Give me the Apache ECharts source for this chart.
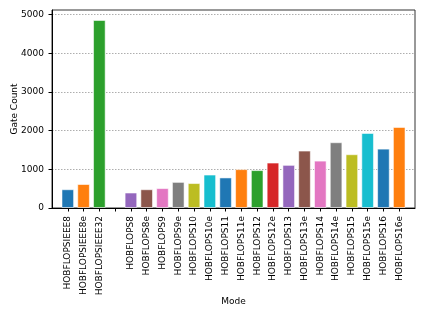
<!DOCTYPE html>
<html>
<head>
<meta charset="utf-8">
<script src="https://cdn.jsdelivr.net/npm/echarts@6/dist/echarts.min.js"></script>
<style>html,body{margin:0;padding:0;background:#fff}#c{width:425px;height:319px}</style>
</head>
<body>
<div id="c"></div>
<script>
const categories = ['HOBFLOPSIEEE8','HOBFLOPSIEEE8e','HOBFLOPSIEEE32','',
  'HOBFLOPS8','HOBFLOPS8e','HOBFLOPS9','HOBFLOPS9e','HOBFLOPS10','HOBFLOPS10e',
  'HOBFLOPS11','HOBFLOPS11e','HOBFLOPS12','HOBFLOPS12e','HOBFLOPS13','HOBFLOPS13e',
  'HOBFLOPS14','HOBFLOPS14e','HOBFLOPS15','HOBFLOPS15e','HOBFLOPS16','HOBFLOPS16e'];
const gateCounts = [485, 620, 4860, null,
  400, 485, 515, 675, 645, 865,
  790, 1005, 980, 1175, 1115, 1485,
  1225, 1700, 1390, 1940, 1535, 2095];
const yTicks = [0, 1000, 2000, 3000, 4000, 5000];
const palette = ['#1f77b4','#ff7f0e','#2ca02c','#d62728','#9467bd','#8c564b','#e377c2','#7f7f7f','#bcbd22','#17becf'];

// pad with empty edge categories so the plot has matplotlib-like margins
const xCats = ['<pad0>'].concat(categories, ['<pad1>']);
const xData = [null].concat(gateCounts, [null]).map((v, i) => ({
  value: v,
  itemStyle: { color: palette[(i - 1 + 10) % 10] }
}));

const chart = echarts.init(document.getElementById('c'), null, {renderer: 'canvas'});
const font = 'DejaVu Sans';
chart.setOption({
  animation: false,
  grid: { left: 52, right: 10, top: 10, bottom: 111, containLabel: false, outerBoundsMode: 'none',
    show: true, borderColor: '#333', borderWidth: 1, backgroundColor: 'transparent' },
  xAxis: {
    type: 'category',
    data: xCats,
    boundaryGap: false,
    name: 'Mode',
    nameLocation: 'middle',
    nameGap: 89,
    nameMoveOverlap: false,
    nameTextStyle: { fontFamily: font, fontSize: 9, color: '#000' },
    axisLine: { lineStyle: { color: '#000', width: 1 } },
    axisTick: { show: true, length: 3.5, lineStyle: { color: '#000' },
      interval: (idx) => idx > 0 && idx < xCats.length - 1 },
    axisLabel: { interval: 0, rotate: 90, fontFamily: font, fontSize: 9, color: '#000', margin: 8,
      formatter: (v) => v.startsWith('<pad') ? '' : v },
    splitLine: { show: false }
  },
  yAxis: {
    type: 'value',
    min: 0,
    max: 5118,
    interval: 1000,
    name: 'Gate Count',
    nameLocation: 'middle',
    nameGap: 33,
    nameMoveOverlap: false,
    nameTextStyle: { fontFamily: font, fontSize: 9, color: '#000' },
    axisLine: { show: true, lineStyle: { color: '#000', width: 1 } },
    axisTick: { show: true, length: 3.5, lineStyle: { color: '#000' } },
    axisLabel: { fontFamily: font, fontSize: 9, color: '#000', margin: 8, showMaxLabel: false,
      formatter: (v) => yTicks.includes(v) ? String(v) : '' },
    splitLine: { show: true, lineStyle: { color: '#999', type: [1.5, 1.5], width: 0.8 } }
  },
  series: [{
    type: 'bar',
    data: xData,
    barWidth: '80%',
    itemStyle: { borderColor: 'rgba(255,255,255,0.55)', borderWidth: 1 }
  }]
});
</script>
</body>
</html>
